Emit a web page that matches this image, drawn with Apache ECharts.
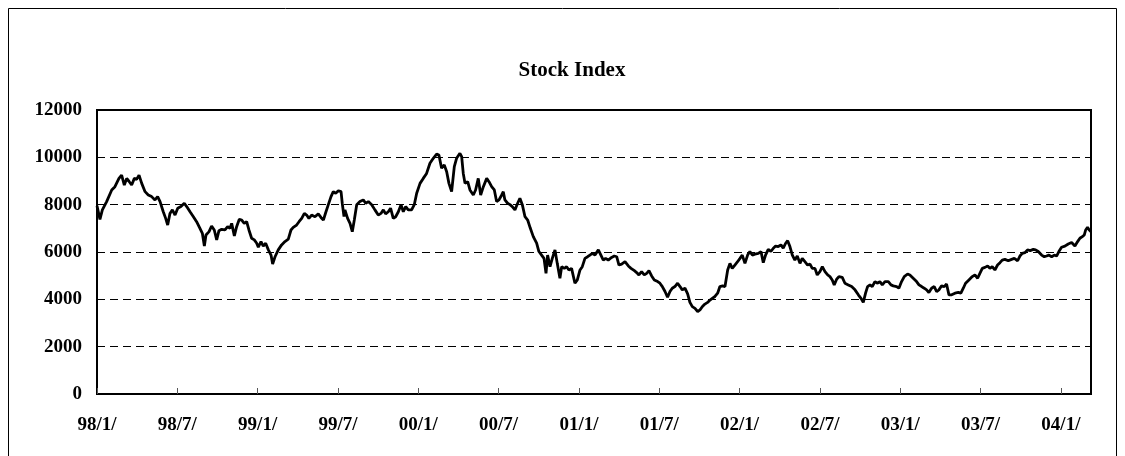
<!DOCTYPE html>
<html lang="en" style="height: 100%">
<head>
  <meta charset="utf-8">
</head>
<body style="height: 100%; margin: 0; background: #fff">
<div id="container" style="width: 1125px; height: 456px"></div>

<script type="text/javascript" src="https://cdn.jsdelivr.net/npm/echarts@6/dist/echarts.min.js"></script>

<script type="text/javascript">
  // x = months since 98/1 (fractional)
  var monthIdx = [
    0, 0.22, 0.40, 0.72, 1.10, 1.34, 1.64, 1.84, 2.04, 2.22, 2.41, 2.59, 2.79, 2.96, 3.14, 3.34, 3.59, 3.83, 4.08, 4.33,
    4.53, 4.71, 4.95, 5.13, 5.28, 5.45, 5.63, 5.83, 6.03, 6.27, 6.52, 6.70, 6.95, 7.20, 7.44, 7.69, 7.87, 8.02, 8.14, 8.37,
    8.56, 8.76, 8.94, 9.11, 9.31, 9.56, 9.76, 9.93, 10.06, 10.26, 10.43, 10.63, 10.81, 11.00, 11.18, 11.35, 11.55, 11.75, 11.93, 12.05,
    12.25, 12.42, 12.60, 12.80, 13.00, 13.12, 13.30, 13.54, 13.79, 14.04, 14.29, 14.49, 14.66, 14.91, 15.09, 15.29, 15.49, 15.66, 15.83, 16.03,
    16.28, 16.53, 16.73, 16.91, 17.08, 17.28, 17.48, 17.65, 17.83, 18.03, 18.23, 18.32, 18.45,
    18.52, 18.72, 18.90, 19.07, 19.22, 19.40, 19.64, 19.89, 20.07, 20.27, 20.52, 20.76, 21.01, 21.21, 21.39, 21.56, 21.76, 21.93, 22.13, 22.31,
    22.51, 22.71, 22.88, 23.06, 23.25, 23.50, 23.70, 23.88, 24.13, 24.37, 24.62, 24.87, 25.12, 25.37, 25.54, 25.74, 25.94, 26.12, 26.29, 26.49,
    26.69, 26.86, 27.11, 27.24, 27.36, 27.49, 27.69, 27.86, 28.11, 28.28, 28.48, 28.66, 28.86, 29.11, 29.28, 29.48, 29.68, 29.85, 30.03, 30.23,
    30.35, 30.47, 30.67, 30.85, 31.02, 31.22, 31.42, 31.59, 31.77, 31.97, 32.17, 32.37, 32.59, 32.84, 33.01, 33.21, 33.39, 33.54, 33.66, 33.84,
    34.01, 34.21, 34.38, 34.58, 34.71, 34.91, 35.08, 35.25, 35.45, 35.70, 35.88, 36.08, 36.25, 36.45, 36.65, 36.82, 37.00,
    37.20, 37.45, 37.64, 37.82, 37.99, 38.19, 38.44, 38.64, 38.82, 38.99, 39.19, 39.44, 39.69, 39.89, 40.14, 40.31, 40.48, 40.68, 40.88, 41.06,
    41.23, 41.43, 41.63, 41.88, 42.05, 42.23, 42.43, 42.62, 42.80, 42.97, 43.17, 43.37, 43.55, 43.72, 43.92, 44.12, 44.29, 44.47, 44.67, 44.87,
    45.04, 45.21, 45.41, 45.61, 45.79, 45.96, 46.16, 46.36, 46.53, 46.73, 46.91, 47.11, 47.28, 47.45, 47.65, 47.85, 48.03, 48.20, 48.40, 48.60,
    48.77, 48.95, 49.15, 49.40, 49.60, 49.77, 49.94, 50.14, 50.34, 50.52, 50.69, 50.89, 51.09, 51.26, 51.44, 51.59, 51.76, 51.94, 52.13, 52.31,
    52.51, 52.68, 52.88, 53.08, 53.26, 53.43, 53.63, 53.80, 54.00, 54.18, 54.38, 54.58, 54.75, 54.92, 55.07, 55.25, 55.42, 55.67,
    55.87, 56.12, 56.37, 56.62, 56.87, 57.07, 57.24, 57.41, 57.56, 57.74, 57.91, 58.11, 58.31, 58.48, 58.66, 58.86, 59.11, 59.31, 59.48, 59.73,
    59.90, 60.10, 60.30, 60.55, 60.72, 60.97, 61.22, 61.40, 61.60, 61.79, 61.97, 62.14, 62.34, 62.54, 62.72, 62.89, 63.09, 63.29, 63.46, 63.64,
    63.84, 64.09, 64.34, 64.53, 64.71, 64.88, 65.13, 65.38, 65.58, 65.78, 65.95, 66.13, 66.33, 66.53, 66.70, 66.87, 67.07, 67.27, 67.45, 67.62,
    67.82, 68.07, 68.32, 68.52, 68.77, 68.94, 69.12, 69.31, 69.51, 69.71, 69.94, 70.11, 70.31, 70.56, 70.76, 70.93, 71.11, 71.31, 71.51, 71.68,
    71.85, 72.05, 72.30, 72.55, 72.80, 73.05, 73.25, 73.42, 73.60, 73.75, 73.85, 73.99, 74.12, 74.25
  ];

  var indexValues = [
    7950, 7380, 7780, 8130, 8620, 8760, 9110, 9250, 8830, 9110, 8970, 8830, 9110, 9070, 9250, 8900, 8550, 8410, 8340, 8200,
    8340, 8130, 7700, 7420, 7140, 7630, 7780, 7560, 7850, 7920, 8060, 7920, 7700, 7490, 7280, 7000, 6790, 6250, 6720, 6860,
    7100, 6930, 6510, 6900, 6960, 6930, 7070, 7000, 7210, 6680, 7070, 7380, 7350, 7210, 7280, 6930, 6580, 6510, 6370, 6200,
    6440, 6250, 6370, 6090, 5870, 5490, 5800, 6090, 6300, 6440, 6540, 6930, 7040, 7140, 7280, 7420, 7630, 7560, 7420, 7560,
    7490, 7610, 7460, 7350, 7660, 8000, 8340, 8550, 8480, 8590, 8550, 8060, 7500,
    7780, 7420, 7210, 6860, 7350, 8000, 8130, 8200, 8060, 8130, 8000, 7780, 7560, 7630, 7780, 7610, 7700, 7850, 7420, 7490,
    7700, 8000, 7700, 7920, 7780, 7780, 8000, 8480, 8900, 9110, 9320, 9750, 9960, 10140, 10100, 9540, 9680, 9390, 8900, 8550,
    9610, 9960, 10170, 10030, 9320, 8900, 8970, 8620, 8410, 8620, 9110, 8410, 8760, 9110, 8970, 8760, 8620, 8130, 8200, 8410,
    8550, 8200, 8060, 8000, 7920, 7780, 8060, 8270, 8000, 7490, 7350, 7000, 6650, 6370, 6020, 5870, 5730, 5100, 5870, 5380,
    5730, 6090, 5520, 4890, 5380, 5310, 5380, 5240, 5310, 4680, 4820, 5240, 5380, 5730, 5800, 5870, 5940,
    5870, 6090, 5870, 5660, 5730, 5660, 5770, 5830, 5800, 5450, 5490, 5590, 5410, 5310, 5210, 5130, 5030, 5170, 5030, 5100,
    5210, 4990, 4820, 4750, 4680, 4540, 4330, 4090, 4330, 4470, 4540, 4680, 4540, 4400, 4470, 4230, 3870, 3690, 3620, 3480,
    3550, 3690, 3800, 3870, 3970, 4040, 4120, 4260, 4540, 4570, 4540, 5240, 5520, 5310, 5450, 5590, 5730, 5870, 5520, 5870,
    6020, 5870, 5910, 5940, 6020, 5550, 5870, 6110, 6020, 6160, 6250, 6230, 6300, 6160, 6370, 6480, 6230, 5870, 5660, 5830,
    5520, 5730, 5590, 5450, 5490, 5310, 5310, 5030, 5170, 5380, 5170, 5030, 4960, 4820, 4610, 4850, 4960, 4930,
    4680, 4610, 4540, 4400, 4190, 4040, 3870, 4260, 4540, 4610, 4540, 4750, 4680, 4750, 4610, 4750, 4750, 4610, 4570, 4540,
    4470, 4750, 4960, 5070, 5030, 4890, 4750, 4610, 4540, 4470, 4400, 4290, 4470, 4540, 4330, 4400, 4570, 4540, 4650, 4190,
    4190, 4260, 4290, 4260, 4470, 4680, 4820, 4960, 5030, 4890, 5100, 5310, 5350, 5410, 5310, 5380, 5240, 5450, 5550, 5660,
    5690, 5630, 5690, 5730, 5630, 5830, 5940, 5970, 6090, 6060, 6110, 6090, 6020, 5870, 5800, 5830, 5870, 5800, 5870, 5830,
    6020, 6200, 6250, 6340, 6400, 6250, 6440, 6580, 6650, 6720, 6930, 7040, 6930, 6860
  ];

  var tickLabels = ['98/1/', '98/7/', '99/1/', '99/7/', '00/1/', '00/7/', '01/1/',
                    '01/7/', '02/1/', '02/7/', '03/1/', '03/7/', '04/1/'];

  var seriesData = monthIdx.map(function (m, i) { return [m, indexValues[i]]; });

  var dom = document.getElementById('container');
  var myChart = echarts.init(dom, null, { renderer: 'canvas' });

  var font = '"Liberation Serif", "Times New Roman", serif';

  var option = {
    backgroundColor: '#fff',
    animation: false,
    title: {
      text: 'Stock Index',
      left: 567,
      top: 55,
      textAlign: 'center',
      textStyle: { fontFamily: font, fontWeight: 'bold', fontSize: 21, color: '#000' }
    },
    graphic: [{
      type: 'rect',
      shape: { x: 8.5, y: 8.5, width: 1108, height: 470 },
      style: { fill: null, stroke: '#000', lineWidth: 1 },
      silent: true
    }],
    grid: {
      left: 97, right: 34, top: 110, bottom: 62,
      show: true, borderColor: '#000', borderWidth: 2, backgroundColor: 'transparent'
    },
    xAxis: {
      type: 'value',
      min: 0,
      max: 74.25,
      interval: 6,
      axisLine: { lineStyle: { color: '#000', width: 2 } },
      axisTick: { inside: true, length: 6, lineStyle: { color: '#555', width: 1 } },
      splitLine: { show: false },
      axisLabel: {
        showMaxLabel: false,
        margin: 22,
        fontFamily: font, fontWeight: 'bold', fontSize: 19, color: '#000',
        formatter: function (v) {
          var k = Math.round(v / 6);
          return Math.abs(v - k * 6) < 1e-6 ? (tickLabels[k] || '') : '';
        }
      }
    },
    yAxis: {
      type: 'value',
      min: 0,
      max: 12000,
      interval: 2000,
      axisLine: { show: true, lineStyle: { color: '#000', width: 2 } },
      axisTick: { show: false },
      splitLine: { lineStyle: { color: '#000', width: 1, type: [8, 5] } },
      axisLabel: {
        margin: 15, fontFamily: font, fontWeight: 'bold', fontSize: 19, color: '#000',
        formatter: function (v) { return String(v); }
      }
    },
    series: [{
      type: 'line',
      data: seriesData,
      showSymbol: false,
      lineStyle: { color: '#000', width: 2.8 },
      z: 3
    }]
  };

  myChart.setOption(option);
  window.addEventListener('resize', myChart.resize);
</script>
</body>
</html>
